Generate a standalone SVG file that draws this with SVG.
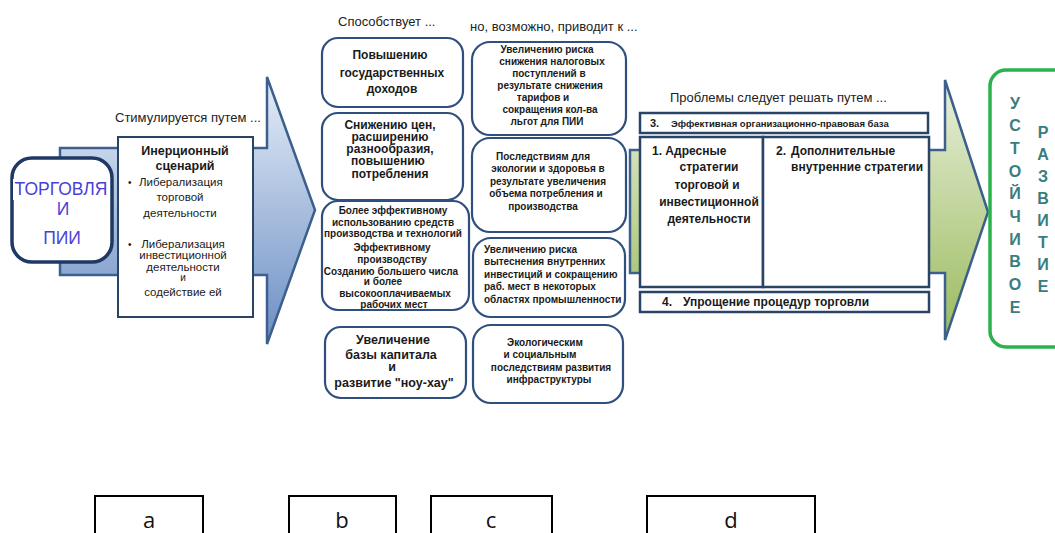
<svg xmlns="http://www.w3.org/2000/svg" width="1055" height="533" viewBox="0 0 1055 533">
<defs>
<linearGradient id="gBlue" x1="0" y1="0" x2="0" y2="1">
<stop offset="0" stop-color="#e6eef8"/>
<stop offset="1" stop-color="#6b8ec4"/>
</linearGradient>
<linearGradient id="gGreen" x1="0" y1="0" x2="0" y2="1">
<stop offset="0" stop-color="#e8efdb"/>
<stop offset="1" stop-color="#9aba5c"/>
</linearGradient>
<style>
text{font-family:"Liberation Sans",Arial,sans-serif;fill:#1a1a1a}
.cap{font-size:13px;fill:#222}
.rb{fill:#fff;stroke:#2f4f7f;stroke-width:2.2}
.sq{fill:#fff;stroke:#2a4468;stroke-width:2.5}
.b12{font-size:12px;font-weight:bold}
.b10{font-size:10px;font-weight:bold}
.r11{font-size:11.5px}
.lab{fill:#fff;stroke:#000;stroke-width:2}
.let{font-family:"Open Sans","Liberation Sans",sans-serif;font-size:22px;fill:#111}
.vt{font-size:16px;font-weight:bold}
.vt text{fill:#3a7d7e}
.tr text{fill:#4a3fd6}
</style>
</defs>

<g id="arrows">
<polygon points="60,148 267,148 267,77 315,210 267,344 267,275 60,275" fill="url(#gBlue)" stroke="#3c5f8e" stroke-width="2.5" stroke-linejoin="miter"/>
<polygon points="630,150 945,150 945,80 988,212 945,340 945,273 630,273" fill="url(#gGreen)" stroke="#3c5f8e" stroke-width="2.5"/>
</g>

<text class="cap" x="115" y="122">Стимулируется путем ...</text>
<text class="cap" x="338" y="26">Способствует ...</text>
<text class="cap" x="470" y="31">но, возможно, приводит к ...</text>
<text class="cap" x="670" y="102">Проблемы следует решать путем ...</text>

<g id="trade">
<rect x="12" y="158" width="100" height="104" rx="20" fill="#fff" stroke="#1f3864" stroke-width="3.5"/>
<rect x="13" y="179" width="97" height="21" fill="#fff"/>
<g class="tr" style="font-size:17.5px" text-anchor="middle">
<text x="61" y="195">ТОРГОВЛЯ</text>
<text x="63" y="215">И</text>
<text x="62" y="244">ПИИ</text>
</g>
</g>

<g id="inertial">
<rect x="118" y="137" width="135" height="180" fill="#fff" stroke="#2a4468" stroke-width="2"/>
<text class="b12" x="185" y="155" text-anchor="middle" style="font-size:12.5px">Инерционный</text>
<text class="b12" x="185" y="170" text-anchor="middle" style="font-size:12.5px">сценарий</text>
<text x="128" y="186" style="font-size:10px">•</text>
<text x="139" y="186" class="r11">Либерализация</text>
<text x="180" y="201" class="r11" text-anchor="middle">торговой</text>
<text x="180" y="217" class="r11" text-anchor="middle">деятельности</text>
<text x="128" y="248" style="font-size:10px">•</text>
<text x="183" y="248" class="r11" text-anchor="middle">Либерализация</text>
<text x="183" y="259" class="r11" text-anchor="middle">инвестиционной</text>
<text x="183" y="271" class="r11" text-anchor="middle">деятельности</text>
<text x="183" y="281" class="r11" text-anchor="middle" style="font-size:10px">и</text>
<text x="183" y="296" class="r11" text-anchor="middle">содействие ей</text>
</g>

<g id="b1">
<rect class="rb" x="322" y="38" width="141" height="69" rx="16"/>
<g class="b12" text-anchor="middle">
<text x="390" y="59">Повышению</text>
<text x="392" y="77">государственных</text>
<text x="392" y="93">доходов</text>
</g>
</g>
<g id="b2">
<rect class="rb" x="322" y="113" width="141" height="87" rx="16"/>
<g class="b12" text-anchor="middle">
<text x="390" y="129">Снижению цен,</text>
<text x="390" y="141">расширению</text>
<text x="390" y="153">разнообразия,</text>
<text x="388" y="165">повышению</text>
<text x="390" y="178">потребления</text>
</g>
</g>
<g id="b3">
<rect class="rb" x="322" y="201" width="147" height="109" rx="16"/>
<g class="b10" text-anchor="middle">
<text x="393" y="214">Более эффективному</text>
<text x="393" y="226">использованию  средств</text>
<text x="393" y="237">производства и технологий</text>
<text x="392" y="251">Эффективному</text>
<text x="392" y="263">производству</text>
<text x="391" y="275">Созданию большего числа</text>
<text x="383" y="285">и более</text>
<text x="395" y="297">высокооплачиваемых</text>
<text x="394" y="308">рабочих мест</text>
</g>
</g>
<g id="b4">
<rect class="rb" x="325" y="327" width="141" height="71" rx="16"/>
<g class="b12" text-anchor="middle" style="font-size:12.5px">
<text x="393" y="344">Увеличение</text>
<text x="391" y="359">базы  капитала</text>
<text x="392" y="371">и</text>
<text x="394" y="387">развитие "ноу-хау"</text>
</g>
</g>

<g id="c1">
<rect class="rb" x="472" y="42" width="154" height="93" rx="18"/>
<g class="b10" text-anchor="middle">
<text x="547" y="53">Увеличению риска</text>
<text x="552" y="65">снижения налоговых</text>
<text x="549" y="77">поступлений в</text>
<text x="550" y="89">результате снижения</text>
<text x="543" y="101">тарифов и</text>
<text x="550" y="113">сокращения кол-ва</text>
<text x="547" y="125">льгот для ПИИ</text>
</g>
</g>
<g id="c2">
<rect class="rb" x="472" y="138" width="154" height="94" rx="18"/>
<g class="b10" text-anchor="middle">
<text x="543" y="160">Последствиям для</text>
<text x="548" y="172">экологии и здоровья в</text>
<text x="548" y="185">результате увеличения</text>
<text x="546" y="197">объема потребления и</text>
<text x="543" y="210">производства</text>
</g>
</g>
<g id="c3">
<rect class="rb" x="473" y="238" width="152" height="79" rx="18"/>
<g class="b10">
<text x="484" y="253">Увеличению риска</text>
<text x="484" y="265">вытеснения внутренних</text>
<text x="484" y="278">инвестиций и сокращению</text>
<text x="484" y="290">раб. мест в некоторых</text>
<text x="484" y="303">областях промышленности</text>
</g>
</g>
<g id="c4">
<rect class="rb" x="473" y="325" width="150" height="78" rx="18"/>
<g class="b10" text-anchor="middle">
<text x="545" y="346">Экологическим</text>
<text x="540" y="358">и социальным</text>
<text x="551" y="371">последствиям развития</text>
<text x="549" y="383">инфраструктуры</text>
</g>
</g>

<g id="d3">
<rect class="sq" x="640" y="113" width="288" height="20"/>
<text x="650" y="127" style="font-size:11px;font-weight:bold">3.</text>
<text x="671" y="127" class="b10" style="font-size:9.5px">Эффективная организационно-правовая база</text>
</g>
<g id="d1">
<rect class="sq" x="640" y="137" width="123" height="150"/>
<text x="652" y="155" class="b12">1. Адресные</text>
<g class="b12" text-anchor="middle">
<text x="709" y="171">стратегии</text>
<text x="707" y="189">торговой и</text>
<text x="709" y="206">инвестиционной</text>
<text x="709" y="223">деятельности</text>
</g>
</g>
<g id="d2">
<rect class="sq" x="763" y="137" width="166" height="150"/>
<text x="776" y="155" class="b12">2.</text>
<text x="791" y="155" class="b12">Дополнительные</text>
<text x="791" y="171" class="b12">внутренние стратегии</text>
</g>
<g id="d4">
<rect class="sq" x="640" y="292" width="289" height="20"/>
<text x="662" y="306" class="b12">4.</text>
<text x="683" y="306" class="b12">Упрощение процедур торговли</text>
</g>

<g id="sustainable">
<rect x="990" y="70" width="80" height="277" rx="16" fill="#fff" stroke="#2bb24c" stroke-width="3.5"/>
<g class="vt" text-anchor="middle">
<text x="1015" y="109">У</text>
<text x="1015" y="131">С</text>
<text x="1015" y="154">Т</text>
<text x="1015" y="177">О</text>
<text x="1015" y="199">Й</text>
<text x="1015" y="222">Ч</text>
<text x="1015" y="245">И</text>
<text x="1015" y="267">В</text>
<text x="1015" y="290">О</text>
<text x="1015" y="313">Е</text>
<text x="1043" y="138">Р</text>
<text x="1043" y="160">А</text>
<text x="1043" y="182">З</text>
<text x="1043" y="204">В</text>
<text x="1043" y="226">И</text>
<text x="1043" y="248">Т</text>
<text x="1043" y="270">И</text>
<text x="1043" y="292">Е</text>
</g>
</g>

<g id="la"><rect class="lab" x="95" y="496" width="108" height="45"/><text class="let" x="149" y="528" text-anchor="middle">a</text></g>
<g id="lb"><rect class="lab" x="289" y="496" width="107" height="45"/><text class="let" x="342" y="528" text-anchor="middle">b</text></g>
<g id="lc"><rect class="lab" x="431" y="496" width="121" height="45"/><text class="let" x="491" y="528" text-anchor="middle">c</text></g>
<g id="ld"><rect class="lab" x="647" y="496" width="168" height="45"/><text class="let" x="731" y="528" text-anchor="middle">d</text></g>
</svg>
